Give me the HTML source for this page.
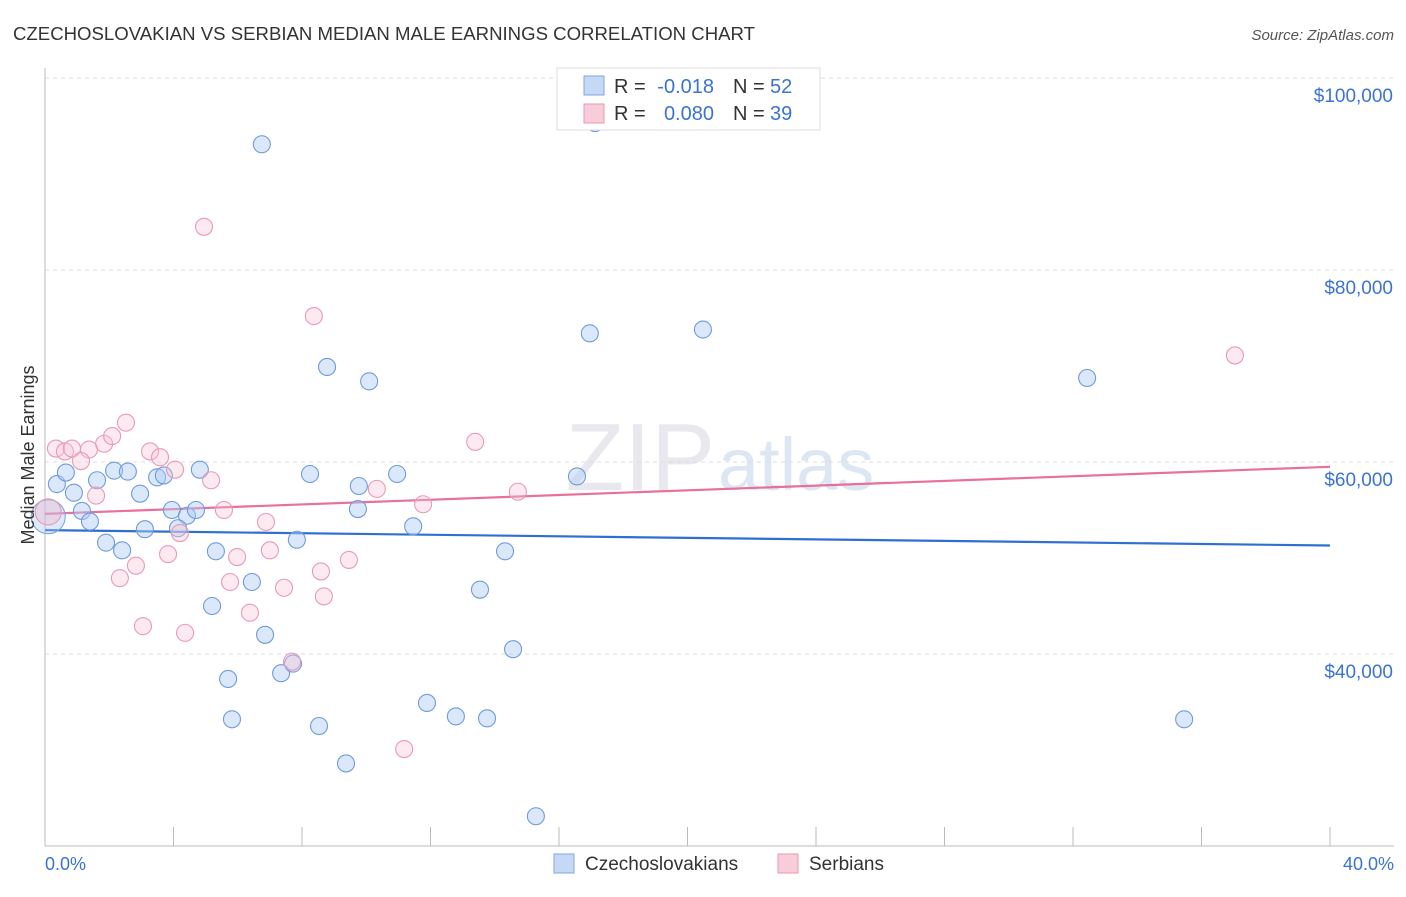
<!DOCTYPE html>
<html><head><meta charset="utf-8"><style>
body{margin:0;background:#fff;font-family:"Liberation Sans",sans-serif;}
svg text{font-family:"Liberation Sans",sans-serif;}
</style></head><body>
<svg id="chart" width="1406" height="892" xmlns="http://www.w3.org/2000/svg">
<text x="13" y="40" font-size="18" fill="#333" textLength="742" lengthAdjust="spacingAndGlyphs">CZECHOSLOVAKIAN VS SERBIAN MEDIAN MALE EARNINGS CORRELATION CHART</text>
<text x="1394" y="40" font-size="15" fill="#555" text-anchor="end" font-style="italic">Source: ZipAtlas.com</text>
<text x="715" y="490" font-size="96" fill="#e8e8ee" text-anchor="end" font-family="Liberation Serif">ZIP</text>
<text x="718" y="490" font-size="74" fill="#dde6f3">atlas</text>
<g id="grid"></g><g id="axes"></g><g id="lines"></g><g id="pts"></g>
<text transform="translate(34,455) rotate(-90)" font-size="18" fill="#333" text-anchor="middle">Median Male Earnings</text>
<text x="45" y="870" font-size="18" fill="#3b73d1">0.0%</text>
<text x="1394" y="870" font-size="18" fill="#3b73d1" text-anchor="end">40.0%</text>
<g>
<rect x="557" y="68" width="263" height="62" fill="#fff" stroke="#ddd"/>
<rect x="584" y="76" width="20" height="19" fill="#c5d9f5" stroke="#7fa6e0"/>
<rect x="584" y="104" width="20" height="19" fill="#f9ccd9" stroke="#e89ab2"/>
<text x="614" y="93" font-size="20" fill="#333">R =</text>
<text x="714" y="93" font-size="20" fill="#3b73d1" text-anchor="end">-0.018</text>
<text x="733" y="93" font-size="20" fill="#333">N =</text>
<text x="770" y="93" font-size="20" fill="#3b73d1">52</text>
<text x="614" y="120" font-size="20" fill="#333">R =</text>
<text x="714" y="120" font-size="20" fill="#3b73d1" text-anchor="end">0.080</text>
<text x="733" y="120" font-size="20" fill="#333">N =</text>
<text x="770" y="120" font-size="20" fill="#3b73d1">39</text>
</g>
<g>
<rect x="554" y="854" width="20" height="19" fill="#c5d9f5" stroke="#7fa6e0"/>
<text x="585" y="870" font-size="19" fill="#333">Czechoslovakians</text>
<rect x="778" y="854" width="20" height="19" fill="#f9ccd9" stroke="#e89ab2"/>
<text x="809" y="870" font-size="19" fill="#333">Serbians</text>
</g>
</svg>
<script>
const yTicks=[40000,60000,80000,100000];
const yTickLabels=["$40,000","$60,000","$80,000","$100,000"];
const blueX=[6.75,17.12,8.78,10.09,16.96,20.48,32.44,0.37,0.65,0.9,1.62,1.15,1.4,2.15,2.58,2.96,3.49,3.7,4.82,3.95,4.42,4.7,4.14,3.11,1.9,2.4,5.32,7.84,8.25,9.77,9.74,10.96,11.46,14.32,16.56,6.44,5.2,6.85,13.54,14.57,5.7,7.35,7.72,5.82,8.53,11.89,12.79,13.76,9.37,15.28,35.46];
const blueY=[93100,95300,69900,68400,73400,73800,68750,57700,58900,56800,58100,54900,53800,59100,59000,56700,58400,58600,59200,55000,54400,55000,53100,53000,51600,50800,50700,51900,58750,57500,55100,58750,53300,50700,58500,47500,45000,42000,46700,40500,37400,38000,39000,33200,32500,34900,33500,33300,28600,23100,33200];
const pinkX=[4.95,8.37,37.04,13.39,0.34,0.62,0.84,1.37,1.12,1.84,2.09,2.52,3.27,3.58,4.05,1.59,5.17,5.57,6.88,10.33,11.77,14.72,3.83,2.83,2.33,5.98,7.0,8.59,9.46,5.76,7.44,8.68,6.38,3.05,4.36,4.2,7.69,11.18];
const pinkY=[84500,75200,71100,62100,61400,61100,61400,61300,60100,61900,62700,64100,61100,60500,59200,56500,58100,55000,53750,57200,55600,56900,50400,49200,47900,50100,50800,48600,49800,47500,46900,46000,44300,42900,42200,52600,39200,30100];
const blueTrend=[52900,51300];
const pinkTrend=[54600,59500];
const NS="http://www.w3.org/2000/svg";
const X=v=>45+v/40*1285;
const Y=v=>846-(v-20000)/80000*768;
function mk(t,a,p){const e=document.createElementNS(NS,t);for(const k in a)e.setAttribute(k,a[k]);p.appendChild(e);return e;}
const grid=document.getElementById('grid'),axes=document.getElementById('axes'),lines=document.getElementById('lines'),pts=document.getElementById('pts');
yTicks.forEach((t,i)=>{
 const l=mk('line',{x1:45,x2:1394,y1:Y(t),y2:Y(t),stroke:'#ddd','stroke-dasharray':'4,4'},grid);
 
 
 const tx=mk('text',{x:1393,y:Y(t)+24,'font-size':19,fill:'#3b73d1','text-anchor':'end'},grid);
 tx.textContent=yTickLabels[i];
 
 
});
const ax=mk('line',{x1:45,x2:45,y1:68,y2:846,stroke:'#bbb'},axes);


const bx=mk('line',{x1:45,x2:1394,y1:846,y2:846,stroke:'#bbb'},axes);


for(let i=1;i<=10;i++){const t=mk('line',{x1:X(i*4),x2:X(i*4),y1:827,y2:846,stroke:'#bbb'},axes);
 
 }
function dot(x,y,r,fill,stroke,name){const c=mk('circle',{cx:X(x),cy:Y(y),r:r,fill:fill,stroke:stroke,'stroke-width':1.1},pts);
 
 }
dot(0.1,54300,17,'rgba(170,200,242,0.4)','#7fa6e0','blue-point-large');
dot(0.1,54800,13,'rgba(245,170,195,0.3)','#e89ab2','pink-point-large');
blueX.forEach((x,i)=>dot(x,blueY[i],8.5,'rgba(175,203,243,0.45)','#6f9bdc','blue-point'));
pinkX.forEach((x,i)=>dot(x,pinkY[i],8.5,'rgba(248,195,212,0.35)','#e99ab3','pink-point'));
const bl=mk('line',{x1:X(0),x2:X(40),y1:Y(blueTrend[0]),y2:Y(blueTrend[1]),stroke:'#2e6fd1','stroke-width':2.2},lines);


const pl=mk('line',{x1:X(0),x2:X(40),y1:Y(pinkTrend[0]),y2:Y(pinkTrend[1]),stroke:'#e8709a','stroke-width':2.2},lines);


</script>
</body></html>
